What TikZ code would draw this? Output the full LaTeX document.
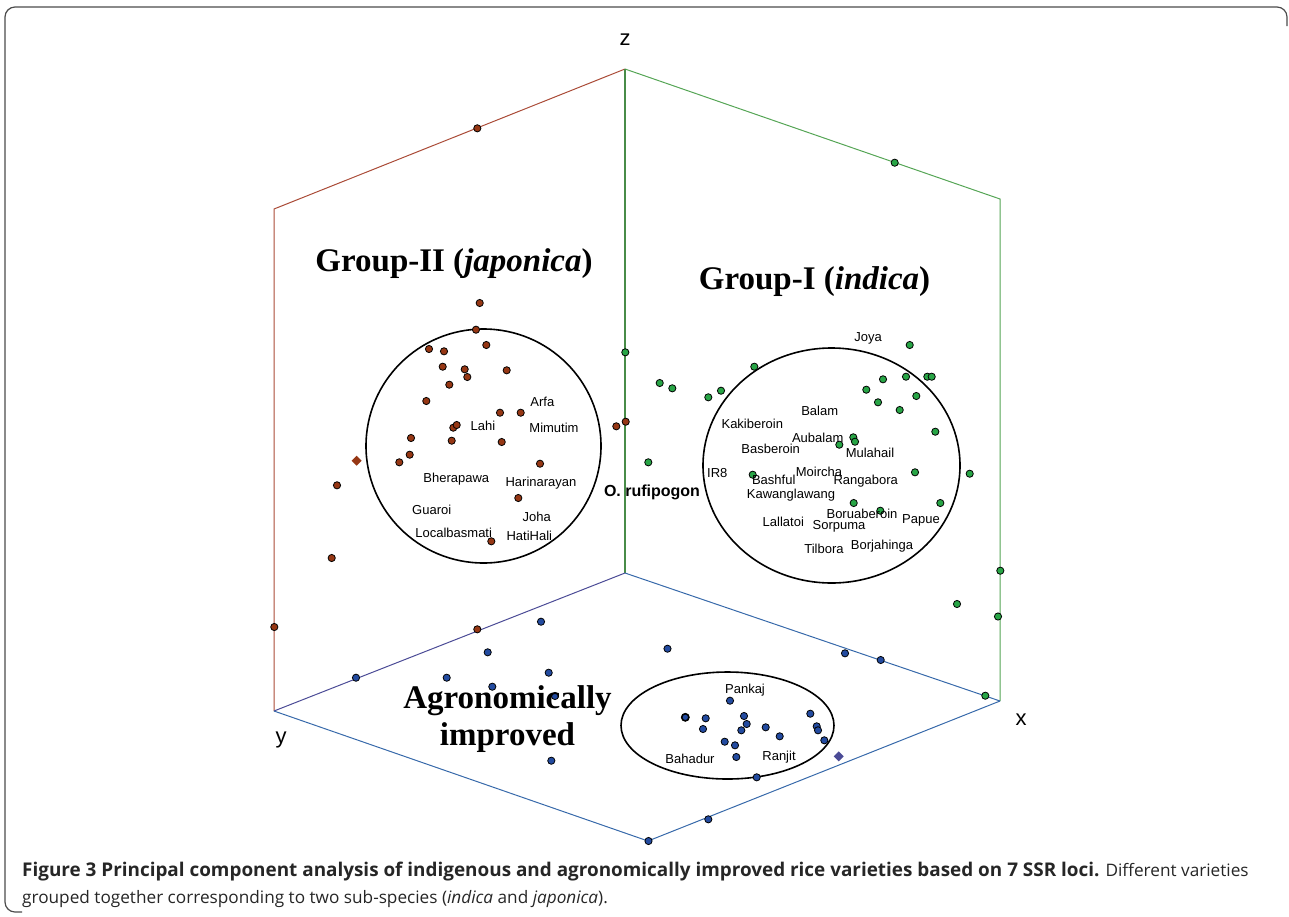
\documentclass[tikz,border=0pt]{standalone}
\usepackage{fontspec}
\setmainfont{Liberation Sans}
\newfontfamily\capfont{Open Sans}
\newfontfamily\grpfont{Liberation Serif}
\definecolor{japcol}{RGB}{150,55,20}
\definecolor{indcol}{RGB}{40,165,70}
\definecolor{agrcol}{RGB}{35,75,160}
\definecolor{zycol}{RGB}{170,75,55}
\definecolor{zxcol}{RGB}{85,165,85}
\definecolor{xycol}{RGB}{55,105,170}
\definecolor{oycol}{RGB}{75,75,150}
\tikzset{
  japdot/.style={fill=japcol,draw=black,line width=0.8pt},
  inddot/.style={fill=indcol,draw=black,line width=0.8pt},
  agrdot/.style={fill=agrcol,draw=black,line width=0.8pt},
  lbl/.style={font=\fontsize{13}{15}\selectfont,inner sep=0pt,text height=9pt,text depth=0pt},
  axlbl/.style={font=\fontsize{22}{24}\selectfont,inner sep=0pt},
  grp/.style={font=\grpfont\bfseries\fontsize{33}{35}\selectfont,inner sep=0pt,anchor=base},
  grpring/.style={draw=black,line width=1.6pt}
}
\begin{document}
\begin{tikzpicture}[x=1pt,y=-1pt]
  \useasboundingbox (0,0) rectangle (1289,916);
  \draw[gray!60!black,line width=1.2pt,rounded corners=10pt] (1287,26) |- (5,7) |- (22,912);
  \coordinate (Z) at (625,69);
  \coordinate (O) at (625,573);
  \coordinate (Ytop) at (274,209);
  \coordinate (Y) at (274,711);
  \coordinate (Xtop) at (1000,199);
  \coordinate (X) at (1000,701);
  \coordinate (B) at (648,841);
  \draw[zycol,line width=1pt] (Y) -- (Ytop) -- (Z);
  \draw[zxcol,line width=1pt] (Z) -- (Xtop) -- (X);
  \draw[zxcol!85!black,line width=1.2pt] (Z) -- (O);
  \draw[oycol,line width=1pt] (O) -- (Y);
  \draw[xycol,line width=1pt] (O) -- (X);
  \draw[xycol,line width=1pt] (Y) -- (B) -- (X);
  \node[axlbl] (zlbl) at (625,40) {z};
  \node[axlbl] (ylbl) at (281,740) {y};
  \node[axlbl] (xlbl) at (1021,720) {x};

  \draw[grpring] (483.5,446) ellipse [x radius=117.5,y radius=117];
  \draw[grpring] (831.5,465.5) ellipse [x radius=128.5,y radius=117.5];
  \draw[grpring] (727.5,725.5) ellipse [x radius=106.5,y radius=53.5];

  \foreach \x/\y in {479.7/303,476/329.7,429/349,444/351.3,486.3/345,442.7/366.7,464.7/369.3,
    467.3/377,506.7/370.3,449.3/384.7,426.3/401,500/412.7,520.7/412.7,453.3/427.7,456.7/425,
    451.7/440.7,501.7/442,411/438,409.7/454.7,399.3/462.3,540/463.7,518.3/498,491.3/541.3,
    337/485.3,331.7/558,616.3/426.3,625.7/421.7,274.3/627,477.3/128.3,477.3/629.3}
    \filldraw[japdot] (\x,\y) circle (3.6);
  \foreach \x/\y in {625.3/352.3,659.7/383,672.3/388.3,708.3/397.3,721/390.7,754.3/366.7,
    648.3/462.3,909.7/345,883/379.3,906/376.7,927.3/376.7,931.7/376.7,866.3/389.7,878/402.3,
    899.7/410,916.3/396,935.3/431.7,853.3/437.3,855/441.7,839.3/444.7,752.7/474.7,915/472.3,
    969.7/473.7,853.7/503,880.3/510.7,940.3/503,1000.3/570.7,957/604,998/616.5,985.3/695.7,
    894.7/162.7}
    \filldraw[inddot] (\x,\y) circle (3.6);
  \foreach \x/\y in {356/677.7,541/621.7,487.7/652.3,446.7/677.7,492.3/686.7,548.7/672.7,
    555/696,551.3/760.7,667.5/648.7,648.5/841,708.3/819.3,845/653.3,880.7/660,730/700.7,
    705.7/718.3,703/729,744/716,746.7/724,741.3/730.3,765.7/727.3,779.7/736.3,724.7/741.7,
    735/745.3,736.3/757,810.3/713.7,816.7/726.3,818/730.3,824.3/740.3,756.7/777.3}
    \filldraw[agrdot] (\x,\y) circle (3.6);
  \filldraw[agrdot,line width=1.6pt] (685.3,717.3) circle (3.6);
  \fill[japcol] (356.7,460.7) +(0,-5) -- +(5,0) -- +(0,5) -- +(-5,0) -- cycle;
  \fill[oycol] (838.7,756.3) +(0,-5) -- +(5,0) -- +(0,5) -- +(-5,0) -- cycle;

  \foreach \x/\y/\t in {542.3/401.7/Arfa,483/426.3/Lahi,554/428.3/Mimutim,
    456.3/477.7/Bherapawa,541/481.7/Harinarayan,431.7/509.7/Guaroi,536.7/516.7/Joha,
    453.7/532.7/Localbasmati,529.3/535.7/HatiHali,
    868/336.7/Joya,819.7/410.7/Balam,752.3/424.3/Kakiberoin,817.7/437.7/Aubalam,
    770.7/449.3/Basberoin,870/453.3/Mulahail,717.3/472.7/IR8,819/471.7/Moircha,
    773.7/480/Bashful,865.7/479.7/Rangabora,791/493.7/Kawanglawang,862/513.5/Boruaberoin,
    921/518.7/Papue,783.3/521.7/Lallatoi,839/525/Sorpuma,824/549.3/Tilbora,
    882/544.7/Borjahinga,
    745/689.3/Pankaj,690/758.7/Bahadur,779/755.7/Ranjit}
    \node[lbl] (\t) at (\x,\y) {\t};
  \node[font=\bfseries\fontsize{16}{18}\selectfont,inner sep=0pt] (rufi) at (652,492) {O. rufipogon};

  \node[grp] (grpII) at (454,271) {Group-II (\textit{japonica})};
  \node[grp] (grpI) at (814.5,289) {Group-I (\textit{indica})};
  \node[grp] (grpA) at (507.5,708) {Agronomically};
  \node[grp] (grpB) at (507.5,745) {improved};

  \node[font=\capfont\fontsize{17.2}{27}\selectfont,text=black!85,anchor=base west,align=left,inner sep=0pt] (cap) at (22,903)
    {{\fontsize{18.9}{27}\selectfont\bfseries Figure 3 Principal component analysis of indigenous and agronomically improved rice varieties based on 7 SSR loci.} Different varieties\\
     grouped together corresponding to two sub-species (\textit{indica} and \textit{japonica}).};
\end{tikzpicture}
\end{document}
